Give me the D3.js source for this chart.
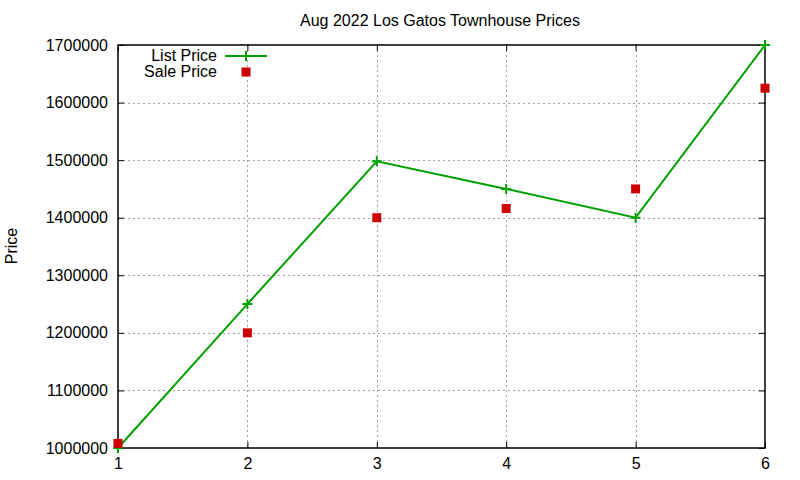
<!DOCTYPE html>
<html>
<head>
<meta charset="utf-8">
<script src="https://cdn.jsdelivr.net/npm/d3@7"></script>
<style>
body { margin: 0; background: #fff; }
text { font-family: "Liberation Sans", Arial, sans-serif; }
</style>
</head>
<body>
<svg id="chart" width="800" height="480"></svg>
<script>
var title = "Aug 2022 Los Gatos Townhouse Prices";
var xValues = [1, 2, 3, 4, 5, 6];
var listPrice = [1000000, 1250000, 1498000, 1450000, 1400000, 1700000];
var salePrice = [1008000, 1200000, 1400000, 1416000, 1450000, 1625000];
var yTicks = [1000000, 1100000, 1200000, 1300000, 1400000, 1500000, 1600000, 1700000];
var seriesNames = ["List Price", "Sale Price"];

var green = "#00a000";
var red = "#cc0000";

var svg = d3.select("#chart");
var plotLeft = 118, plotRight = 765, plotTop = 45, plotBottom = 448;

var x = d3.scaleLinear().domain([1, 6]).range([plotLeft, plotRight]);
var y = d3.scaleLinear().domain([1000000, 1700000]).range([plotBottom, plotTop]);

// grid
var grid = svg.append("g")
    .attr("stroke", "#a0a0a0")
    .attr("stroke-width", 1)
    .attr("stroke-dasharray", "2,3");
grid.selectAll(".gx")
    .data(xValues.slice(1, -1))
    .enter()
    .append("line")
    .attr("x1", function(d){ return Math.round(x(d)) + 0.5; })
    .attr("x2", function(d){ return Math.round(x(d)) + 0.5; })
    .attr("y1", plotTop)
    .attr("y2", plotBottom);
grid.selectAll(".gy")
    .data(yTicks.slice(1, -1))
    .enter()
    .append("line")
    .attr("x1", plotLeft)
    .attr("x2", plotRight)
    .attr("y1", function(d){ return Math.round(y(d)) + 0.5; })
    .attr("y2", function(d){ return Math.round(y(d)) + 0.5; });

// axes (ticks inward, mirrored)
var yAxis = d3.axisLeft(y).tickValues(yTicks).tickSize(-6).tickPadding(10).tickFormat(d3.format("d"));
var yAxisR = d3.axisRight(y).tickValues(yTicks).tickSize(-6).tickFormat("");
var xAxis = d3.axisBottom(x).tickValues(xValues).tickSize(-6).tickPadding(10).tickFormat(d3.format("d"));
var xAxisT = d3.axisTop(x).tickValues(xValues).tickSize(-6).tickFormat("");

function styleAxis(g) {
    g.select(".domain").remove();
    g.selectAll("line").attr("stroke", "#000");
    g.selectAll("text").attr("fill", "#000").style("font-size", "16px");
}

svg.append("g").attr("transform", "translate(" + plotLeft + ",0)").call(yAxis).call(styleAxis);
svg.append("g").attr("transform", "translate(" + plotRight + ",0)").call(yAxisR).call(styleAxis);
svg.append("g").attr("transform", "translate(0," + plotBottom + ")").call(xAxis).call(styleAxis);
svg.append("g").attr("transform", "translate(0," + plotTop + ")").call(xAxisT).call(styleAxis);

svg.append("rect")
    .attr("x", plotLeft)
    .attr("y", plotTop)
    .attr("width", plotRight - plotLeft)
    .attr("height", plotBottom - plotTop)
    .attr("fill", "none")
    .attr("stroke", "#000")
    .attr("stroke-width", 1.5);

// title + label
svg.append("text")
    .attr("x", 440)
    .attr("y", 26)
    .attr("text-anchor", "middle")
    .style("font-size", "16px")
    .text(title);

svg.append("text")
    .attr("transform", "translate(17,246) rotate(-90)")
    .attr("text-anchor", "middle")
    .style("font-size", "16px")
    .text("Price");

// list price line
var line = d3.line()
    .x(function(d, i){ return x(xValues[i]); })
    .y(function(d){ return y(d); });

svg.append("path")
    .datum(listPrice)
    .attr("d", line)
    .attr("fill", "none")
    .attr("stroke", green)
    .attr("stroke-width", 2);

function plus(sel) {
    sel.attr("d", "M-5,0H5M0,-5V5")
        .attr("stroke", green)
        .attr("stroke-width", 2)
        .attr("fill", "none");
}

svg.selectAll(".plus")
    .data(listPrice)
    .enter()
    .append("path")
    .attr("class", "plus")
    .attr("transform", function(d, i){ return "translate(" + x(xValues[i]) + "," + y(d) + ")"; })
    .call(plus);

// sale price points
svg.selectAll(".sq")
    .data(salePrice)
    .enter()
    .append("rect")
    .attr("class", "sq")
    .attr("x", function(d, i){ return x(xValues[i]) - 4.5; })
    .attr("y", function(d){ return y(d) - 4.5; })
    .attr("width", 9)
    .attr("height", 9)
    .attr("fill", red);

// legend
var legend = svg.selectAll(".legend")
    .data(seriesNames)
    .enter()
    .append("g")
    .attr("class", "legend")
    .attr("transform", function(d, i){ return "translate(0," + (56 + i * 16) + ")"; });

legend.append("text")
    .attr("x", 217)
    .attr("y", 5)
    .attr("text-anchor", "end")
    .style("font-size", "16px")
    .text(function(d){ return d; });

legend.filter(function(d, i){ return i === 0; })
    .append("line")
    .attr("x1", 225)
    .attr("x2", 267)
    .attr("stroke", green)
    .attr("stroke-width", 2);
legend.filter(function(d, i){ return i === 0; })
    .append("path")
    .attr("transform", "translate(246,0)")
    .call(plus);
legend.filter(function(d, i){ return i === 1; })
    .append("rect")
    .attr("x", 241.5)
    .attr("y", -4.5)
    .attr("width", 9)
    .attr("height", 9)
    .attr("fill", red);
</script>
</body>
</html>
